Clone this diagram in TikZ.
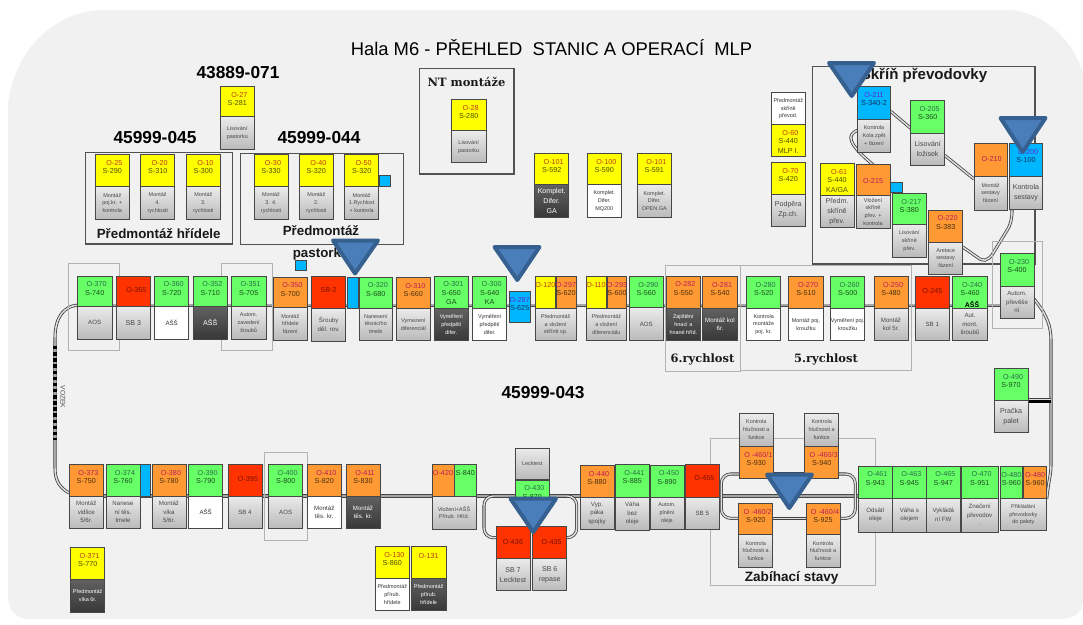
\documentclass[tikz,border=0pt]{standalone}
\usepackage{fontspec}
\setmainfont{Liberation Sans}
\newfontfamily\dserif{DejaVu Serif}
\usetikzlibrary{calc}
\pgfdeclarelayer{bglayer}
\pgfdeclarelayer{rails}
\pgfsetlayers{bglayer,rails,main}
\definecolor{cgr}{HTML}{66FF66}
\definecolor{cye}{HTML}{FFFF00}
\definecolor{cor}{HTML}{FF9933}
\definecolor{cre}{HTML}{FF3300}
\definecolor{cbl}{HTML}{00B7FF}
\definecolor{pagebg}{HTML}{F1F1F1}
\definecolor{trifill}{HTML}{4A7EBB}
\definecolor{triline}{HTML}{35608F}
\definecolor{tog}{HTML}{2C6E49}
\definecolor{toy}{HTML}{C0391E}
\definecolor{too}{HTML}{B81E5A}
\definecolor{tor}{HTML}{7A1200}
\definecolor{tob}{HTML}{5A2AD0}
\definecolor{tsg}{HTML}{1F4D1F}
\definecolor{tsy}{HTML}{4F4F00}
\definecolor{tso}{HTML}{4A3010}
\definecolor{tsb}{HTML}{0C2F5A}
\newcommand\ft{\fontsize{4.1}{5.8}\selectfont}
\newcommand\fs{\fontsize{4.6}{6.4}\selectfont}
\newcommand\fm{\fontsize{5.3}{7.6}\selectfont}
\tikzset{
  fbox/.style={draw=black!72,line width=.75pt,inner sep=0pt,outer sep=0pt,anchor=north west},
  fg/.style={fill=cgr},fy/.style={fill=cye},fo/.style={fill=cor},fr/.style={fill=cre},fb/.style={fill=cbl},
  og/.style={text=tog},
  oy/.style={text=toy},
  oo/.style={text=too},
  or/.style={text=tor},
  ob/.style={text=tob},
  sg/.style={text=tsg},
  sy/.style={text=tsy},
  so/.style={text=tso},
  sr/.style={text=black},
  sb/.style={text=tsb},
  kgb/.style={top color=black!8,bottom color=black!27,text=black!72},
  kwb/.style={fill=white,text=black!80},
  kdb/.style={top color=black!62,bottom color=black!78,text=white},
  optx/.style={font=\fontsize{5.4}{6.5}\selectfont,inner sep=0pt},
  sttx/.style={font=\fontsize{5.4}{7.5}\selectfont,inner sep=0pt,align=center,anchor=north},
  thinbox/.style={draw=black!30,line width=.7pt},
  darkbox/.style={draw=black!68,line width=.8pt},
  track/.style={draw=black!75,line width=.6pt,double=black!12,double distance=1.1pt},
  rowtrack/.style={draw=black!72,line width=.7pt,double=black!35,double distance=1.1pt},
  hdg/.style={font=\fontsize{13}{15}\selectfont\bfseries,text=black,inner sep=0pt},
  subh/.style={font=\fontsize{10}{16}\selectfont\bfseries,text=black!90,inner sep=0pt,align=center},
  serh/.style={font=\dserif\fontsize{8.6}{10}\selectfont\bfseries,text=black!90,inner sep=0pt},
  warn/.style={fill=trifill,draw=triline,line width=3pt,line join=round},
}
% station head: [O shift]{name}{x}{y}{w}{h}{colour}{O}{S}
\newcommand\st[9][2]{%
  \def\lastn{#2}\def\lastw{#5}%
  \node[fbox,f#7,minimum width=#5*0.75pt,minimum height=#6*0.75pt] (#2) at (#3,#4) {};
  \node[optx,o#7] (#2o) at ([shift={(#1,8.5)}]#2.north) {#8};
  \node[sttx,s#7] (#2s) at ([shift={(0,14)}]#2.north) {#9};
}
% station head with a single centred text: {name}{x}{y}{w}{h}{colour}{O}{shift x}{shift y}
\newcommand\stc[9]{%
  \def\lastn{#1}\def\lastw{#4}%
  \node[fbox,f#6,minimum width=#4*0.75pt,minimum height=#5*0.75pt] (#1) at (#2,#3) {};
  \node[optx,o#6] (#1o) at ([shift={(#8,#9)}]#1.north) {#7};
}
% station foot: [width]{kind}{h}{font}{text}
\newcommand\bt[5][\lastw]{%
  \node[fbox,k#2,minimum width=#1*0.75pt,minimum height=#3*0.75pt,font=#4,align=center] (\lastn b) at (\lastn.south west) {#5};
}
\begin{document}
\begin{tikzpicture}[x=0.75pt,y=-0.75pt]
\useasboundingbox (0,0) rectangle (1083,625);
\begin{pgfonlayer}{bglayer}
\fill[white] (0,0) rectangle (1083,625);
\fill[pagebg] (8,105) .. controls (14,50) and (55,10) .. (105,10) -- (1005,10)
  .. controls (1040,10) and (1070,35) .. (1083,72) -- (1083,600)
  .. controls (1083,612) and (1075,619) .. (1060,619) -- (30,619)
  .. controls (15,619) and (8,610) .. (8,595) -- cycle;
\end{pgfonlayer}

% titles
\node[font=\fontsize{13.8}{16}\selectfont,inner sep=0pt] (title) at (551.5,48) {Hala M6 - PŘEHLED\ \ STANIC A OPERACÍ\ \ MLP};
\node[hdg] (h071) at (238,73) {43889-071};
\node[hdg] (h045) at (155,138) {45999-045};
\node[hdg] (h044) at (319,138) {45999-044};
\node[hdg] (h043) at (543,393) {45999-043};

% frames
\draw[darkbox] (85.3,152.7) rectangle (232.7,244);
\draw[darkbox] (240.7,153.3) rectangle (403.3,244.7);
\draw[darkbox] (419.3,68.3) rectangle (514,174);
\draw[darkbox] (812.7,66.7) rectangle (1035,264);
\draw[thinbox] (68.7,263.3) rectangle (119.3,350.7);
\draw[thinbox] (221.7,263.3) rectangle (272.7,350.7);
\draw[thinbox] (665,265) rectangle (740,371);
\draw[thinbox] (740,265) rectangle (911.5,370);
\draw[thinbox] (992,241.7) rectangle (1042.7,328);
\draw[thinbox] (264,452.7) rectangle (307.3,540);
\draw[thinbox] (710.7,438.7) rectangle (875.3,585.3);

\node[subh] (lbh) at (158.7,234) {Předmontáž hřídele};
\node[subh] (lbp) at (321,243) {Předmontáž\\ pastorku};
\node[serh] (lbnt) at (466.5,81.7) {NT montáže};
\node[serh] (lb6) at (702.5,359) {6.rychlost};
\node[serh] (lb5) at (826,359) {5.rychlost};
\node[font=\fontsize{11.3}{13}\selectfont\bfseries,inner sep=0pt,text=black!90] (lbsk) at (924,75) {Skříň převodovky};
\node[font=\fontsize{10.2}{12}\selectfont\bfseries,inner sep=0pt,text=black!90] (lbz) at (791.7,578.3) {Zabíhací stavy};
\node[font=\fontsize{5}{6}\selectfont,text=black!70,inner sep=0pt,rotate=-90] (vozek) at (63,397) {VOZEK};

% pre-assembly groups
\st{a27}{220}{86.7}{34.7}{30}{y}{O-27}{S-281}\bt{gb}{32.6}{\ft}{Lisování\\ pastorku}
\st{a25}{95.3}{154.7}{34}{32}{y}{O-25}{S-290}\bt{gb}{32.6}{\ft}{Montáž\\ poj.kr. +\\ kontrola}
\st{a20}{140.7}{154.7}{34}{32}{y}{O-20}{S-310}\bt{gb}{32.6}{\ft}{Montáž\\ 4.\\ rychlosti}
\st{a10}{186}{154.7}{34.7}{32}{y}{O-10}{S-300}\bt{gb}{32.6}{\ft}{Montáž\\ 3.\\ rychlosti}
\st{a30}{254}{154.7}{34}{32}{y}{O-30}{S-330}\bt{gb}{32.6}{\ft}{Montáž\\ 3. 4.\\ rychlosti}
\st{a40}{299.3}{154.7}{34}{32}{y}{O-40}{S-320}\bt{gb}{32.6}{\ft}{Montáž\\ 2.\\ rychlosti}
\st{a50}{344.7}{154.7}{34}{32}{y}{O-50}{S-320}\bt{gb}{32.6}{\ft}{Montáž\\ 1.Rychlost\\ + kontrola}
\node[fbox,fb,minimum width=11.4*0.75pt,minimum height=10.7*0.75pt] (c50) at (379.3,175.3) {};
\st{a28}{451.3}{99.3}{34.7}{31.4}{y}{O-28}{S-280}\bt{gb}{32}{\ft}{Lisování\\ pastorku}
\st{a101}{534.7}{153.3}{34}{31.4}{y}{O-101}{S-592}\bt{db}{32.6}{\fm}{Komplet.\\ Difer.\\ GA}
\st{a100}{587.3}{153.3}{34}{31.4}{y}{O-100}{S-590}\bt{wb}{32.6}{\ft}{Komplet.\\ Difer.\\ MQ200}
\st{a102}{637.3}{153.3}{34}{31.4}{y}{O-101}{S-591}\bt{gb}{32.6}{\ft}{Komplet.\\ Difer.\\ OPEN.GA}

% gearbox housing
\node[fbox,kwb,minimum width=34*0.75pt,minimum height=32*0.75pt,font=\ft,align=center] (p60) at (771.3,92.7) {Předmontáž\\ skříně\\ převod.};
\st{a60}{771.3}{124.7}{34}{32}{y}{O-60}{S-440\\ MLP I.}
\st{a70}{771.3}{162.7}{34}{31.3}{y}{O-70}{S-420}\bt{gb}{32}{\fm}{Podpěra\\ Zp.ch.}
\st[0]{a211}{857.3}{86.7}{33.4}{32.6}{b}{O-211}{S-340-2}\bt{gb}{32.7}{\ft}{Kontrola\\ Kola zpět\\ + fázení}
\st{a205}{910.7}{100.7}{34}{32.6}{g}{O-205}{S-360}\bt{gb}{32}{\fm}{Lisování\\ ložisek}
\stc{a210}{974}{143.3}{33.3}{32.7}{o}{O-210}{1}{16}\bt{gb}{34}{\ft}{Montáž\\ sestavy\\ fázení}
\st{a200}{1009.3}{143.3}{33.4}{32.7}{b}{O-200}{S-100}\bt{gb}{33.3}{\fm}{Kontrola\\ sestavy}
\st{a61}{820}{163.3}{34}{32}{y}{O-61}{S-440\\ KA/GA}\bt{gb}{32}{\fm}{Předm.\\ skříně\\ přev.}
\stc{a215}{856}{164.7}{34}{30.6}{o}{O-215}{0}{16}\bt{gb}{32.7}{\ft}{Vložení\\ skříně\\ přev. +\\ kontrola}
\node[fbox,fb,minimum width=11.3*0.75pt,minimum height=10.7*0.75pt] (c215) at (890.7,182) {};
\st{a217}{892}{193.3}{34.7}{31.4}{g}{O-217}{S-380}\bt{gb}{32.6}{\ft}{Lisování\\ skříně\\ přev.}
\st{a220}{928.7}{210}{34}{32}{o}{O-220}{S-383}\bt{gb}{32}{\ft}{Aretace\\ sestavy\\ fázení}
\st{a230}{1000}{253.3}{34}{32.7}{g}{O-230}{S-400}\bt{gb}{32}{\fs}{Autom.\\ převěše\\ ní}

% upper row
\node[fbox,fb,minimum width=11.4*0.75pt,minimum height=10.7*0.75pt] (c350) at (295.3,260) {};
\st{b370}{77.3}{276}{34.7}{30.7}{g}{O-370}{S-740}\bt{gb}{32.3}{\fs}{AOS}
\stc{b365}{116.3}{276}{34}{30.7}{r}{O-365}{3}{14}\bt{gb}{32.3}{\fm}{SB 3}
\st{b360}{154.7}{276}{34}{30.7}{g}{O-360}{S-720}\bt{wb}{32.3}{\fs}{AŠŠ}
\st{b352}{193.3}{276}{34}{30.7}{g}{O-352}{S-710}\bt{db}{32.3}{\fm}{AŠŠ}
\st{b351}{231.3}{276}{34.7}{30.7}{g}{O-351}{S-705}\bt{gb}{32.3}{\ft}{Autom.\\ zavedení\\ šroubů}
\st{b350}{273.3}{277}{34}{30.5}{o}{O-350}{S-700}\bt{gb}{32.5}{\ft}{Montáž\\ hřídele\\ fázení}
\stc{b2}{311.7}{276}{34}{32}{r}{SB-2}{0}{14}\bt{gb}{33}{\fs}{Šrouby\\ děl. rov.}
\node[fbox,fb,minimum width=10.6*0.75pt,minimum height=31.7*0.75pt] (b2c) at (347.7,277) {};
\st{b320}{359}{277}{33.7}{31}{g}{O-320}{S-680}\bt{gb}{32}{\ft}{Nanesení\\ těsnicího\\ tmele}
\st{b310}{396}{277.3}{34.7}{30.7}{o}{O-310}{S-660}\bt{gb}{32.7}{\ft}{Vymezení\\ diferenciál}
\st{b301}{434}{276}{34.7}{32.7}{g}{O-301}{S-650\\[-.6pt]GA}\bt{db}{32}{\ft}{Vyměření\\ předpětí\\ difer.}
\st{b300}{472.7}{276}{34}{32.7}{g}{O-300}{S-640\\[-.6pt]KA}\bt{wb}{32}{\ft}{Vyměření\\ předpětí\\ difer.}
\st[0]{b297}{509.3}{291.3}{20.7}{31.4}{b}{O-297}{S-625}
\st[0]{b120}{535.3}{276.7}{20}{32}{y}{O-120}{}
\st[0]{b297a}{556}{276.7}{20}{32}{o}{O-297}{S-620}
\def\lastn{b120}\bt[40.7]{gb}{32}{\ft}{Předmontáž\\ a vložení\\ skříně sp.}
\st[0]{b110}{586}{276.7}{20}{32}{y}{O-110}{}
\st[0]{b293}{607.3}{276.7}{19.4}{32}{o}{O-293}{S-600}
\def\lastn{b110}\bt[40.7]{gb}{32}{\ft}{Předmontáž\\ a vložení\\ diferenciálu}
\st{b290}{629.3}{276.7}{34}{31}{g}{O-290}{S-560}\bt{gb}{32.6}{\fs}{AOS}
\st{b282}{666}{276}{34.7}{32}{o}{O-282}{S-550}\bt{db}{32.7}{\ft}{Zajištění\\ hnací a\\ hnané hříd.}
\st{b281}{702.7}{276.7}{34.6}{32}{o}{O-281}{S-540}\bt{db}{31.3}{\fs}{Montáž kol\\ 6r.}
\st{b280}{746.7}{276.7}{34}{32}{g}{O-280}{S-520}\bt{wb}{31.3}{\ft}{Kontrola\\ montáže\\ poj. kr.}
\st{b270}{788.7}{276.7}{34.6}{32}{o}{O-270}{S-510}\bt{wb}{31.3}{\ft}{Montáž poj.\\ kroužku}
\st{b260}{830.7}{276.7}{34}{32}{g}{O-260}{S-500}\bt{wb}{31.3}{\ft}{Vyměření poj.\\ kroužku}
\st{b250}{874}{276.7}{34}{32}{o}{O-250}{S-480}\bt{gb}{31.3}{\fs}{Montáž\\ kol 5r.}
\stc{b245}{915.3}{276.7}{34}{32}{r}{O-245}{0}{14}\bt{gb}{31.3}{\fs}{SB 1}
\st{b240}{952.7}{276.7}{34.6}{32}{g}{O-240}{S-460}\bt{gb}{31.3}{\fs}{Aut.\\ mont.\\ šroubů}
\node[font=\fontsize{5.2}{6}\selectfont\bfseries,inner sep=0pt] (b240a) at (972,304.5) {AŠŠ};
\st{b490}{994}{368.7}{34}{32}{g}{O-490}{S-970}\bt{gb}{32}{\fm}{Pračka\\ palet}

% lower row
\st{c373}{69.3}{464.7}{34}{31.3}{o}{O-373}{S-750}\bt{gb}{32.3}{\fs}{Montáž\\ vidlice\\ 5/6r.}
\st{c374}{106}{464.7}{34}{31.3}{g}{O-374}{S-760}\bt{gb}{32.3}{\fs}{Nanese\\ ní těs.\\ tmele}
\node[fbox,fb,minimum width=10*0.75pt,minimum height=31.7*0.75pt] (c374c) at (140.7,464.7) {};
\st{c380}{152}{464.7}{34}{31.3}{o}{O-380}{S-780}\bt{gb}{32.3}{\fs}{Montáž\\ víka\\ 5/6r.}
\st{c390}{188.7}{464.7}{34}{31.3}{g}{O-390}{S-790}\bt{wb}{32.3}{\fs}{AŠŠ}
\stc{c395}{228}{464.7}{34}{31.3}{r}{O-395}{3}{14}\bt{gb}{32.3}{\fs}{SB 4}
\st{c400}{268.7}{464.7}{34}{31.3}{g}{O-400}{S-800}\bt{gb}{32.3}{\fs}{AOS}
\st{c410}{307.3}{464.7}{34}{31.3}{o}{O-410}{S-820}\bt{wb}{32.3}{\fs}{Montáž\\ těs. kr.}
\st{c411}{346}{464.7}{34}{31.3}{o}{O-411}{S-830}\bt{db}{32.3}{\fs}{Montáž\\ těs. kr.}
\st{c371}{70.7}{547.3}{34}{32}{y}{O-371}{S-770}\bt{db}{32.7}{\ft}{Předmontáž\\ víka 6r.}
\stc{c420}{432}{464}{22}{32}{o}{O-420}{0}{9}
\node[fbox,fg,minimum width=21.3*0.75pt,minimum height=32*0.75pt] (c840) at (454.7,464) {};
\node[optx,text=tsg] (c840s) at ([shift={(0,9)}]c840.north) {S-840};
\bt[44]{gb}{33.3}{\ft}{Vložení+AŠŠ\\ Přírub. Hříd.}
\node[fbox,kgb,minimum width=34*0.75pt,minimum height=31.3*0.75pt,font=\ft] (l430) at (515.3,448) {Lecktest};
\begin{scope}
\clip (510,470) rectangle (555,497);
\st{c430}{515.3}{480}{34}{17}{g}{O-430}{S-870}
\end{scope}
\stc{c436}{496}{526.7}{34}{32}{r}{O-436}{0}{15}\bt{gb}{32}{\fm}{SB 7\\ Lecktest}
\stc{c435}{532.7}{526.7}{34}{32}{r}{O-435}{2}{15}\bt{gb}{32}{\fm}{SB 6\\ repase}
\st{c130}{375.3}{546.7}{34}{31.3}{y}{O-130}{S-860}\bt{wb}{32.7}{\ft}{Předmontáž\\ přírub.\\ hřídele}
\stc{c131}{411.3}{546.7}{34.7}{31.3}{y}{O-131}{0}{9}\bt{db}{32.7}{\ft}{Předmontáž\\ přírub.\\ hřídele}
\st{c440}{580}{465.3}{34}{32}{o}{O-440}{S-880}\bt{gb}{32}{\fs}{Vyp.\\ páka\\ spojky}
\st{c441}{615.3}{464.3}{34}{32.7}{g}{O-441}{S-885}\bt{gb}{33}{\fs}{Váha\\ bez\\ oleje}
\st{c450}{650}{465}{34}{32.3}{g}{O-450}{S-890}\bt{gb}{32}{\ft}{Autom.\\ plnění\\ oleje}
\stc{c455}{685.3}{464}{34}{33}{r}{O-455}{2}{14}\bt{gb}{32.3}{\fs}{SB 5}
\node[fbox,kgb,minimum width=34*0.75pt,minimum height=32.7*0.75pt,font=\ft,align=center] (k1) at (739.3,413.3) {Kontrola\\ hlučnosti a\\ funkce};
\st{d1}{739.3}{446}{34}{32}{o}{O -460/1}{S-930}
\node[fbox,kgb,minimum width=34*0.75pt,minimum height=32.7*0.75pt,font=\ft,align=center] (k3) at (804.7,413.3) {Kontrola\\ hlučnosti a\\ funkce};
\st{d3}{804.7}{446}{34}{32}{o}{O -460/3}{S-940}
\st{d2}{738.7}{503.3}{34}{31.4}{o}{O -460/2}{S-920}\bt{gb}{32.6}{\ft}{Kontrola\\ hlučnosti a\\ funkce}
\st{d4}{806}{503.3}{34}{31.4}{o}{O -460/4}{S-925}\bt{gb}{32.6}{\ft}{Kontrola\\ hlučnosti a\\ funkce}
\st{e461}{858}{466}{34.7}{32}{g}{O-461}{S-943}\bt{gb}{34}{\fs}{Odsátí\\ oleje}
\st{e463}{892.7}{466}{33.3}{32}{g}{O-463}{S-945}\bt{gb}{34}{\fs}{Váha s\\ olejem}
\st{e465}{926.7}{466}{33.3}{32}{g}{O-465}{S-947}\bt{gb}{34}{\fs}{Vykládá\\ ní FW}
\st{e470}{961.3}{466}{36.7}{32}{g}{O-470}{S-951}\bt{gb}{34}{\fs}{Značení\\ převodov\\ .}
\st[0]{e480}{1000}{466.7}{22.7}{32}{g}{O-480}{S-960}
\st[0]{e481}{1023.3}{466.7}{23.4}{32}{o}{O-480}{S-960}
\def\lastn{e480}\bt[46.7]{gb}{32}{\ft}{Přikládání\\ převodovky\\ do palety}

% conveyor
\coordinate (railL) at (55,400);
\coordinate (railR) at (1051,400);
\coordinate (loopL) at (484,516);
\coordinate (loopR) at (576.7,516);
\coordinate (zL) at (721.3,497);
\coordinate (zR) at (855.3,497);
\coordinate (rowA) at ([shift={(0,-1.5)}]b370.south east);
\coordinate (rowB) at (c373.south east);
\begin{pgfonlayer}{rails}
\draw[rowtrack] (rowA) -- (rowA -| a230b.west);
\draw[track] ([shift={(0,-1.5)}]b370.south west) .. controls (65,306) and (55,316) .. (railL |- 0,338) -- (railL |- 0,468) .. controls (55,481) and (60,488) .. ([shift={(0,-3)}]c373.south west);
\draw[rowtrack] (rowB) -- (rowB -| e461.west);
\draw[black,line width=2.3pt,dash pattern=on 2.6pt off 2pt] (railL |- 0,346) -- (railL |- 0,440);
\draw[track] ([shift={(0,-3)}]a230b.east) .. controls (1043,310) and (railR |- 0,322) .. (railR |- 0,340) -- (railR |- 0,465) .. controls (1051,475) and (1049,478) .. ([shift={(0,0)}]e481.south east);
\draw[track] ([shift={(0,-8)}]a211.south east) -- ([shift={(0,-5)}]a205.south west);
\draw[track,line cap=round] ([shift={(0,11)}]a211b.north west) .. controls (847,135) and (847,143) .. (a215.north);
\draw[track] ([shift={(0,-10)}]a205b.south east) -- ([shift={(0,3)}]a210.south west);
\draw[track] ([shift={(0,5)}]a220.south east) -- (977,257) .. controls (983,262) and (987,261) .. (992,255) -- (1006,232) .. controls (1011,225) and (1012,218) .. (1012,210);
\draw[track,rounded corners=7pt] ([shift={(0,-4)}]d1.south east) -- ([shift={(0,-4)}]d3.south west);
\draw[track,rounded corners=7pt] ([shift={(0,15)}]d2.north east) -- ([shift={(0,15)}]d4.north west);
\draw[track,rounded corners=7pt] ([shift={(0,-4)}]d1.south west) -| (zL) |- ([shift={(0,15)}]d2.north west);
\draw[track,rounded corners=7pt] ([shift={(0,-4)}]d3.south east) -| (zR) |- ([shift={(0,15)}]d4.north east);
\draw[track,rounded corners=7pt] ([shift={(0,11)}]c436.north west) -| (loopL) |- ([shift={(-6,-1)}]c430.south west);
\draw[track,rounded corners=7pt] ([shift={(0,11)}]c435.north east) -| (loopR) |- ([shift={(6,-1)}]c430.south east);
\draw[track] ([shift={(0,-1)}]b490b.north east) -- ([shift={(0,-1)}]b490b.north east -| railR);
\draw[black,line width=2.2pt] ([shift={(0,0.7)}]b490.south east) -- ([shift={(0,0.7)}]b490.south east -| railR);
\end{pgfonlayer}

% warning triangles
\newcommand\warntri[5]{\draw[warn] (#1,#3) -- (#2,#3) -- (#4,#5) -- cycle;}
\warntri{333}{378}{240.5}{355}{273.5}
\warntri{494.5}{539.5}{247}{517.3}{280}
\warntri{829}{874}{63}{851.7}{96}
\warntri{1000.5}{1045.5}{118}{1022.7}{152}
\warntri{510.5}{556}{498.7}{533.3}{532}
\warntri{767}{812}{474.7}{789.3}{508}
\end{tikzpicture}
\end{document}
